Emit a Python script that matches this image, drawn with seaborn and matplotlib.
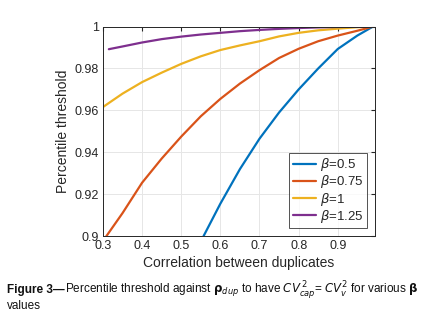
import pandas as pd
import matplotlib
matplotlib.use('Agg')
import matplotlib.pyplot as plt
import seaborn as sns

# valores
x_b050 = [0.557, 0.6, 0.65, 0.7, 0.75, 0.8, 0.85, 0.9, 0.95, 0.99]
y_b050 = [0.900, 0.9155, 0.932, 0.9465, 0.959, 0.970, 0.980, 0.9893, 0.9957, 1.0]

x_b075 = [0.3087, 0.35, 0.4, 0.45, 0.5, 0.55, 0.6, 0.65, 0.7, 0.75, 0.8, 0.85, 0.9, 0.95, 0.99]
y_b075 = [0.900, 0.911, 0.9255, 0.937, 0.9475, 0.9572, 0.9655, 0.9728, 0.9792, 0.9850,
          0.9894, 0.993, 0.9957, 0.998, 1.0]

x_b100 = [0.3, 0.35, 0.4, 0.45, 0.5, 0.55, 0.6, 0.65, 0.7, 0.75, 0.8, 0.85, 0.9, 0.95, 0.99]
y_b100 = [0.9616, 0.968, 0.9735, 0.978, 0.9822, 0.9858, 0.9888, 0.991, 0.993, 0.9953,
          0.997, 0.9982, 0.999, 0.9997, 1.0]

x_b125 = [0.315, 0.35, 0.4, 0.45, 0.5, 0.55, 0.6, 0.65, 0.7, 0.75, 0.8, 0.85, 0.9, 0.95, 0.99]
y_b125 = [0.9892, 0.9905, 0.9924, 0.994, 0.9952, 0.9962, 0.997, 0.9978, 0.9984, 0.9989,
          0.9993, 0.9996, 0.9998, 0.9999, 1.0]

rotulos = [r'$\beta$=0.5', r'$\beta$=0.75', r'$\beta$=1', r'$\beta$=1.25']
cores = ['#0072BD', '#D95319', '#EDB120', '#7E2F8E']

xticks = [0.3, 0.4, 0.5, 0.6, 0.7, 0.8, 0.9]
yticks = [0.9, 0.92, 0.94, 0.96, 0.98, 1.0]
ytick_labels = ['0.9', '0.92', '0.94', '0.96', '0.98', '1']

# montar tabela longa
partes = []
for xs, ys, rot in zip([x_b050, x_b075, x_b100, x_b125],
                       [y_b050, y_b075, y_b100, y_b125], rotulos):
    partes.append(pd.DataFrame({'rho': xs, 'limiar': ys, 'beta': rot}))
dados = pd.concat(partes, ignore_index=True)

sns.set_style('whitegrid')
plt.rcParams['font.family'] = ['Liberation Sans', 'DejaVu Sans']
plt.rcParams['mathtext.fontset'] = 'dejavusans'

fig = plt.figure(figsize=(4.29, 3.2), dpi=100)
ax = fig.add_axes([0.240, 0.262, 0.634, 0.655])

sns.lineplot(data=dados, x='rho', y='limiar', hue='beta', palette=cores,
             hue_order=rotulos, sort=False, estimator=None, linewidth=1.6, ax=ax)

ax.set_xlim(0.3, 0.995)
ax.set_ylim(0.9, 1.0)
ax.set_xticks(xticks)
ax.set_xticklabels([str(t) for t in xticks])
ax.set_yticks(yticks)
ax.set_yticklabels(ytick_labels)
ax.tick_params(direction='in', length=3, labelsize=9, colors='#262626',
               top=True, right=True, pad=3)
ax.grid(True, color='#e6e6e6', linewidth=0.7)
for s in ax.spines.values():
    s.set_color('#262626')
    s.set_linewidth(0.7)
ax.set_xlabel('Correlation between duplicates', fontsize=10, color='#262626', labelpad=3)
ax.set_ylabel('Percentile threshold', fontsize=10, color='#262626', labelpad=3)

leg = ax.legend(loc='lower right', fontsize=9.5, frameon=True, fancybox=False,
                handlelength=1.8, handletextpad=0.3, borderpad=0.25, labelspacing=0.02,
                borderaxespad=0.6)
leg.get_frame().set_edgecolor('#262626')
leg.get_frame().set_linewidth(0.7)

# legenda da figura: "Figure 3—" em negrito, o resto normal
r = fig.canvas.get_renderer()
t1 = fig.text(0.017, 0.085, 'Figure 3—', fontsize=8.5, fontweight='bold', color='#111111')
larg = t1.get_window_extent(r).width / fig.bbox.width
fig.text(0.017 + larg, 0.085,
         r'Percentile threshold against $\mathbf{\rho}_{dup}$ to have '
         r'$\mathit{CV}_{cap}^{\,2}$= $\mathit{CV}_{v}^{2}$ for various $\mathbf{\beta}$',
         fontsize=8.5, color='#111111')
fig.text(0.017, 0.035, 'values', fontsize=8.5, color='#111111')

fig.savefig('out.png', dpi=100)
